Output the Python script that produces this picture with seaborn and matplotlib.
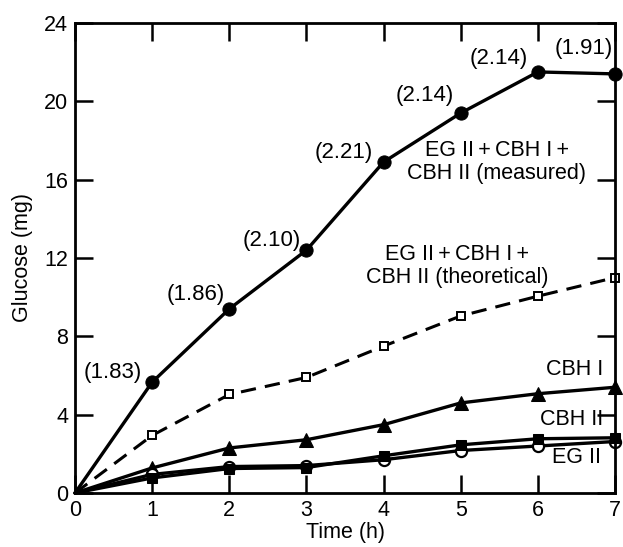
import matplotlib
matplotlib.use("Agg")
import matplotlib.pyplot as plt
import seaborn as sns
import pandas as pd

time_h = [0, 1, 2, 3, 4, 5, 6, 7]
measured = [0, 5.66, 9.4, 12.4, 16.9, 19.4, 21.5, 21.4]
theoretical = [0, 2.94, 5.03, 5.9, 7.5, 9.04, 10.05, 11.0]
cbh1 = [0, 1.28, 2.3, 2.72, 3.49, 4.6, 5.07, 5.4]
cbh2 = [0, 0.77, 1.25, 1.3, 1.9, 2.46, 2.77, 2.82]
eg2 = [0, 0.95, 1.35, 1.4, 1.7, 2.17, 2.4, 2.63]
ratios = ["(1.83)", "(1.86)", "(2.10)", "(2.21)", "(2.14)", "(2.14)", "(1.91)"]
ratio_pos = [(0.49, 6.15), (1.56, 10.15), (2.55, 12.9), (3.48, 17.4),
             (4.54, 20.3), (5.49, 22.2), (6.59, 22.7)]
xticks = [0, 1, 2, 3, 4, 5, 6, 7]
yticks = [0, 4, 8, 12, 16, 20, 24]

sns.set_theme(style="ticks")
plt.rcParams['font.family'] = ['Liberation Sans', 'DejaVu Sans']
plt.rcParams['text.color'] = 'black'
plt.rcParams['axes.labelcolor'] = 'black'
plt.rcParams['xtick.color'] = 'black'
plt.rcParams['ytick.color'] = 'black'

fig = plt.figure(figsize=(6.23, 5.47), dpi=100)
ax = fig.add_axes([0.1204, 0.0987, 0.8668, 0.8593])

df = pd.DataFrame({"t": time_h, "measured": measured, "theoretical": theoretical,
                   "cbh1": cbh1, "cbh2": cbh2, "eg2": eg2})

every = list(range(1, len(time_h)))
common = dict(ax=ax, color="black", clip_on=False, markevery=every)
sns.lineplot(data=df, x="t", y="measured", lw=2.4,
             marker="o", markersize=9.5, markerfacecolor="black", markeredgecolor="black", **common)
sns.lineplot(data=df, x="t", y="theoretical", lw=2.2, linestyle=(0, (5, 3)),
             marker="s", markersize=6, markerfacecolor="white", markeredgecolor="black",
             markeredgewidth=1.4, **common)
sns.lineplot(data=df, x="t", y="cbh1", lw=2.4,
             marker="^", markersize=9.5, markerfacecolor="black", markeredgecolor="black", **common)
sns.lineplot(data=df, x="t", y="eg2", lw=2.4,
             marker="o", markersize=8, markerfacecolor="white", markeredgecolor="black",
             markeredgewidth=1.6, **common)
sns.lineplot(data=df, x="t", y="cbh2", lw=2.4,
             marker="s", markersize=7, markerfacecolor="black", markeredgecolor="black", **common)

ax.set_xlim(0, 7)
ax.set_ylim(0, 24)
ax.set_xticks(xticks)
ax.set_yticks(yticks)
ax.tick_params(direction="in", length=13, width=1.8, labelsize=15.5,
               top=True, right=True, colors="black", pad=5)
for s in ax.spines.values():
    s.set_linewidth(2.0)
    s.set_color("black")
ax.set_xlabel("Time (h)", fontsize=15.5, labelpad=1)
ax.set_ylabel("Glucose (mg)", fontsize=15.5, labelpad=8)
ax.set_facecolor("white")

for txt, (x, y) in zip(ratios, ratio_pos):
    ax.text(x, y, txt, fontsize=16, ha="center", va="center")

ax.text(5.47, 16.9, "EG II\u2009+\u2009CBH I\u2009+\nCBH II (measured)", fontsize=15.5,
        ha="center", va="center", linespacing=1.1)
ax.text(4.95, 11.6, "EG II\u2009+\u2009CBH I\u2009+\nCBH II (theoretical)", fontsize=15.5,
        ha="center", va="center", linespacing=1.1)
ax.text(6.85, 6.3, "CBH I", fontsize=15.5, ha="right", va="center")
ax.text(6.85, 3.74, "CBH II", fontsize=15.5, ha="right", va="center")
ax.text(6.82, 1.8, "EG II", fontsize=15.5, ha="right", va="center")

fig.savefig("out.png", dpi=100, facecolor="white")
